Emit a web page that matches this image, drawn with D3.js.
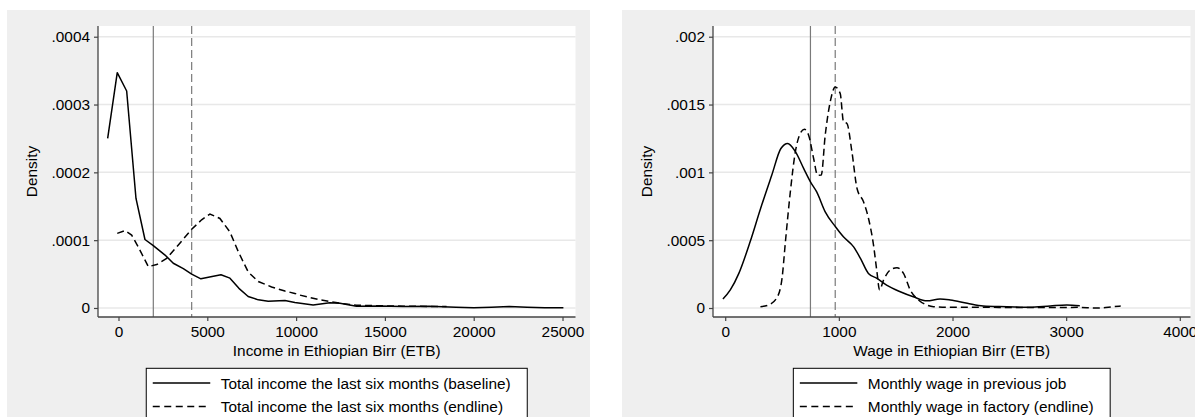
<!DOCTYPE html>
<html>
<head>
<meta charset="utf-8">
<script src="https://cdn.jsdelivr.net/npm/d3@7"></script>
<style>
  body { margin: 0; background: #fff; }
  svg { display: block; font-family: "Liberation Sans", Arial, Helvetica, sans-serif; }
</style>
</head>
<body>
<div id="chart"></div>
<script>
// kdensity curves (x in ETB, y = density)
const incomeBaseX = [-610, -70, 460, 985, 1490, 1960, 2620, 3085, 3650, 4120, 4640, 5200, 5770, 6275, 6780, 7300, 7870, 8430, 9370, 9930, 10960, 11900, 12470, 13400, 14700, 16000, 17500, 19000, 20000, 21000, 22000, 23000, 24000, 25050];
const incomeBaseY = [2.50e-4, 3.47e-4, 3.20e-4, 1.615e-4, 1.01e-4, 0.92e-4, 0.78e-4, 0.66e-4, 0.58e-4, 0.50e-4, 0.43e-4, 0.46e-4, 0.49e-4, 0.44e-4, 0.29e-4, 0.17e-4, 0.12e-4, 0.10e-4, 0.11e-4, 0.08e-4, 0.045e-4, 0.078e-4, 0.07e-4, 0.025e-4, 0.03e-4, 0.02e-4, 0.025e-4, 0.01e-4, 0.005e-4, 0.01e-4, 0.02e-4, 0.01e-4, 0.005e-4, 0.005e-4];
const incomeEndX = [-70, 365, 740, 1115, 1680, 2150, 2710, 3370, 4120, 4680, 5150, 5710, 6275, 6745, 7305, 7870, 8620, 9370, 9930, 10210, 11340, 12470, 13400, 15280, 16580, 18470];
const incomeEndY = [1.10e-4, 1.14e-4, 1.075e-4, 0.90e-4, 0.61e-4, 0.64e-4, 0.73e-4, 0.93e-4, 1.16e-4, 1.30e-4, 1.385e-4, 1.32e-4, 1.12e-4, 0.83e-4, 0.53e-4, 0.39e-4, 0.31e-4, 0.25e-4, 0.215e-4, 0.19e-4, 0.12e-4, 0.07e-4, 0.04e-4, 0.03e-4, 0.025e-4, 0.02e-4];

const wagePrevX = [-20, 45, 120, 220, 310, 410, 490, 550, 615, 690, 750, 805, 880, 970, 1040, 1130, 1190, 1260, 1335, 1420, 1540, 1655, 1775, 1890, 1980, 2130, 2270, 2480, 2680, 2860, 3005, 3120];
const wagePrevY = [0.066e-3, 0.133e-3, 0.255e-3, 0.49e-3, 0.73e-3, 0.98e-3, 1.176e-3, 1.213e-3, 1.156e-3, 1.029e-3, 0.93e-3, 0.856e-3, 0.709e-3, 0.599e-3, 0.525e-3, 0.451e-3, 0.366e-3, 0.255e-3, 0.219e-3, 0.169e-3, 0.12e-3, 0.083e-3, 0.053e-3, 0.066e-3, 0.059e-3, 0.035e-3, 0.015e-3, 0.01e-3, 0.005e-3, 0.015e-3, 0.022e-3, 0.017e-3];
const wageFactX = [310, 380, 455, 500, 530, 573, 617, 660, 696, 734, 778, 813, 845, 880, 924, 968, 1012, 1041, 1071, 1115, 1160, 1217, 1261, 1305, 1335, 1358, 1393, 1452, 1511, 1569, 1628, 1700, 1775, 1833, 2000, 2300, 2600, 2900, 3100, 3270, 3400, 3480];
const wageFactY = [0.01e-3, 0.022e-3, 0.076e-3, 0.219e-3, 0.49e-3, 0.856e-3, 1.151e-3, 1.286e-3, 1.318e-3, 1.274e-3, 1.102e-3, 0.979e-3, 0.98e-3, 1.274e-3, 1.519e-3, 1.63e-3, 1.581e-3, 1.372e-3, 1.36e-3, 1.151e-3, 0.881e-3, 0.783e-3, 0.66e-3, 0.464e-3, 0.267e-3, 0.133e-3, 0.206e-3, 0.28e-3, 0.297e-3, 0.255e-3, 0.133e-3, 0.059e-3, 0.022e-3, 0.01e-3, 0.005e-3, 0.005e-3, 0.003e-3, 0.003e-3, 0.005e-3, 0.0, 0.008e-3, 0.015e-3];

// medians (vertical reference lines)
const incomeRefs = [1960, 4120];
const wageRefs = [750, 968];

// tick labels
const incomeXTicks = [0, 5000, 10000, 15000, 20000, 25000];
const incomeYTicks = [0, 0.0001, 0.0002, 0.0003, 0.0004];
const incomeYLabels = ["0", ".0001", ".0002", ".0003", ".0004"];
const wageXTicks = [0, 1000, 2000, 3000, 4000];
const wageYTicks = [0, 0.0005, 0.001, 0.0015, 0.002];
const wageYLabels = ["0", ".0005", ".001", ".0015", ".002"];

const svg = d3.select("#chart").append("svg")
  .attr("width", 1195).attr("height", 417);

const FS = 15.4;
const bg = "#efefef";

function zip(xs, ys) { return xs.map((x, i) => ({x: x, y: ys[i]})); }

function drawPanel(ox, o) {
  var g = svg.append("g").attr("transform", "translate(" + ox + ",0)");
  g.append("rect").attr("x", 0).attr("y", 10).attr("width", 583).attr("height", 407).attr("fill", bg);

  var left = 91, top = 26, w = 477.5, h = 291;
  var x = d3.scaleLinear().domain(o.xDomain).range([left, left + w]);
  var y = d3.scaleLinear().domain(o.yDomain).range([top + h, top]);

  g.append("rect").attr("x", left).attr("y", top).attr("width", w).attr("height", h).attr("fill", "#fff");

  // gridlines
  g.append("g").selectAll("line").data(o.yTicks).enter().append("line")
    .attr("x1", left).attr("x2", left + w)
    .attr("y1", d => y(d)).attr("y2", d => y(d))
    .attr("stroke", "#e8e8e8").attr("stroke-width", 1.5);

  // reference lines
  g.append("line").attr("x1", x(o.refs[0])).attr("x2", x(o.refs[0]))
    .attr("y1", top).attr("y2", top + h)
    .attr("stroke", "#7a7a7a").attr("stroke-width", 1.2);
  g.append("line").attr("x1", x(o.refs[1])).attr("x2", x(o.refs[1]))
    .attr("y1", top).attr("y2", top + h)
    .attr("stroke", "#7a7a7a").attr("stroke-width", 1.2).attr("stroke-dasharray", "8,4");

  var line = d3.line().x(d => x(d.x)).y(d => y(d.y)).curve(o.curve);
  var clip = "clip" + ox;
  g.append("clipPath").attr("id", clip).append("rect")
    .attr("x", left).attr("y", top).attr("width", w).attr("height", h);

  g.append("path").datum(o.solid).attr("d", line)
    .attr("fill", "none").attr("stroke", "#000").attr("stroke-width", 1.5)
    .attr("stroke-linejoin", "round").attr("clip-path", "url(#" + clip + ")");
  g.append("path").datum(o.dashed).attr("d", line)
    .attr("fill", "none").attr("stroke", "#000").attr("stroke-width", 1.5)
    .attr("stroke-dasharray", "7,4").attr("clip-path", "url(#" + clip + ")");

  // axes
  var ya = g.append("g").attr("transform", "translate(" + left + ",0)")
    .call(d3.axisLeft(y).tickValues(o.yTicks).tickFormat((d, i) => o.yLabels[i]).tickSize(4).tickPadding(4));
  var xa = g.append("g").attr("transform", "translate(0," + (top + h) + ")")
    .call(d3.axisBottom(x).tickValues(o.xTicks).tickFormat(d3.format("d")).tickSize(4).tickPadding(5));
  [ya, xa].forEach(a => {
    a.select(".domain").attr("stroke", "#444").attr("stroke-width", 1.3);
    a.selectAll(".tick line").attr("stroke", "#444").attr("stroke-width", 1.2);
    a.selectAll("text").attr("font-size", FS).attr("fill", "#000")
      .attr("font-family", "'Liberation Sans', Arial, Helvetica, sans-serif");
  });
  ya.select(".domain").attr("d", "M0," + top + "V" + (top + h));
  xa.select(".domain").attr("d", "M" + left + ",0H" + (left + w));

  g.append("text").attr("transform", "translate(29.5," + (top + h / 2) + ") rotate(-90)")
    .attr("text-anchor", "middle").attr("font-size", FS).text("Density");
  g.append("text").attr("x", left + w / 2).attr("y", 356)
    .attr("text-anchor", "middle").attr("font-size", FS).text(o.xTitle);

  // legend
  var lg = g.append("g");
  var box = lg.append("rect").attr("y", 368.3).attr("height", 60)
    .attr("fill", "#fff").attr("stroke", "#000").attr("stroke-width", 1);
  var t1 = lg.append("text").attr("y", 388.5).attr("font-size", FS).text(o.names[0]);
  var t2 = lg.append("text").attr("y", 412).attr("font-size", FS).text(o.names[1]);
  var tw = Math.max(t1.node().getComputedTextLength(), t2.node().getComputedTextLength());
  var bw = 74.5 + tw + 16.5;
  var bx = left + w / 2 - bw / 2;
  box.attr("x", bx).attr("width", bw);
  t1.attr("x", bx + 74.5); t2.attr("x", bx + 74.5);
  lg.append("line").attr("x1", bx + 6.5).attr("x2", bx + 64).attr("y1", 383).attr("y2", 383)
    .attr("stroke", "#000").attr("stroke-width", 1.5);
  lg.append("line").attr("x1", bx + 6.5).attr("x2", bx + 64).attr("y1", 406.5).attr("y2", 406.5)
    .attr("stroke", "#000").attr("stroke-width", 1.5).attr("stroke-dasharray", "7,4.5");
}

drawPanel(7, {
  xDomain: [-1154, 25731], yDomain: [-0.0000133, 0.0004158],
  xTicks: incomeXTicks, yTicks: incomeYTicks, yLabels: incomeYLabels,
  refs: incomeRefs, curve: d3.curveLinear,
  solid: zip(incomeBaseX, incomeBaseY), dashed: zip(incomeEndX, incomeEndY),
  xTitle: "Income in Ethiopian Birr (ETB)",
  names: ["Total income the last six months (baseline)", "Total income the last six months (endline)"]
});

drawPanel(622, {
  xDomain: [-107.4, 4094], yDomain: [-0.0000663, 0.002079],
  xTicks: wageXTicks, yTicks: wageYTicks, yLabels: wageYLabels,
  refs: wageRefs, curve: d3.curveMonotoneX,
  solid: zip(wagePrevX, wagePrevY), dashed: zip(wageFactX, wageFactY),
  xTitle: "Wage in Ethiopian Birr (ETB)",
  names: ["Monthly wage in previous job", "Monthly wage in factory (endline)"]
});
</script>
</body>
</html>
